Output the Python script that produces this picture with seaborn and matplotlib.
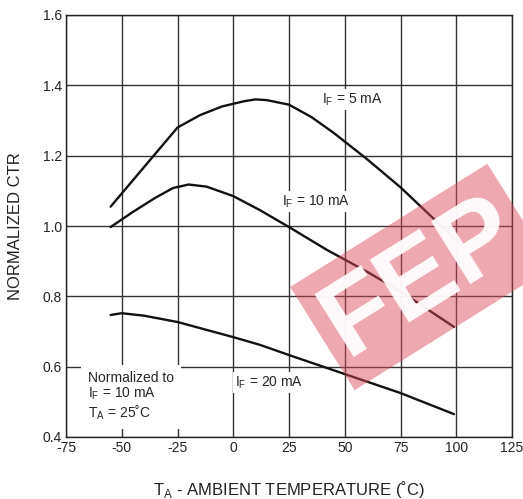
import numpy as np
import pandas as pd
import seaborn as sns
import matplotlib.pyplot as plt

# Curve data
temp_5 = [-55, -45, -35, -25, -15, -5, 5, 10, 15, 25, 35, 45, 50, 60, 75, 90, 99]
ctr_5 = [1.055, 1.13, 1.205, 1.28, 1.315, 1.34, 1.355, 1.36, 1.358, 1.345, 1.31, 1.265, 1.24, 1.19, 1.11, 1.02, 0.965]

temp_10 = [-55, -45, -35, -27, -20, -12, 0, 12, 25, 42, 60, 76, 99]
ctr_10 = [0.997, 1.04, 1.08, 1.108, 1.118, 1.112, 1.085, 1.045, 0.997, 0.932, 0.87, 0.81, 0.713]

temp_20 = [-55, -50, -40, -25, 0, 12, 25, 50, 75, 99]
ctr_20 = [0.747, 0.752, 0.745, 0.727, 0.684, 0.662, 0.633, 0.579, 0.525, 0.465]

x_ticks = [-75, -50, -25, 0, 25, 50, 75, 100, 125]
y_ticks = [0.4, 0.6, 0.8, 1.0, 1.2, 1.4, 1.6]

sns.set_theme(style='white')
plt.rcParams['font.family'] = ['Liberation Sans', 'DejaVu Sans']

df = pd.concat([
    pd.DataFrame({'temp': temp_5, 'ctr': ctr_5, 'curve': '5'}),
    pd.DataFrame({'temp': temp_10, 'ctr': ctr_10, 'curve': '10'}),
    pd.DataFrame({'temp': temp_20, 'ctr': ctr_20, 'curve': '20'}),
])

fig = plt.figure(figsize=(5.23, 4.99), dpi=100)
ax = fig.add_axes([66 / 523, 1 - 437 / 499, 446 / 523, 422 / 499])

sns.lineplot(data=df, x='temp', y='ctr', units='curve', estimator=None,
             color='#111111', linewidth=1.7, ax=ax, sort=False, zorder=3)

ax.set_xlim(-75, 125)
ax.set_ylim(0.4, 1.6)
ax.set_xticks(x_ticks)
ax.set_yticks(y_ticks)
ax.set_xticklabels([str(t) for t in x_ticks])
ax.set_yticklabels([f'{t:.1f}' for t in y_ticks])
ax.tick_params(length=0, labelsize=10, colors='#222222', pad=3)
ax.grid(True, color='#333333', linewidth=1.0)
for s in ax.spines.values():
    s.set_color('#222222')
    s.set_linewidth(1.0)

ax.set_xlabel(r'T$_\mathregular{A}$ - AMBIENT TEMPERATURE (˚C)', fontsize=12, color='#222222', labelpad=17)
ax.set_ylabel('NORMALIZED CTR', fontsize=12, color='#222222', labelpad=14)

box = dict(facecolor='white', edgecolor='none', pad=1.5)
ax.text(40, 1.36, r'I$_\mathregular{F}$ = 5 mA', fontsize=10, va='center', bbox=box, zorder=4)
ax.text(22, 1.07, r'I$_\mathregular{F}$ = 10 mA', fontsize=10, va='center', bbox=box, zorder=4)
ax.text(1, 0.555, r'I$_\mathregular{F}$ = 20 mA', fontsize=10, va='center', bbox=box, zorder=4)
ax.text(-65, 0.515, 'Normalized to\n' + r'I$_\mathregular{F}$ = 10 mA' + '\n' + r'T$_\mathregular{A}$ = 25˚C',
        fontsize=10, va='center', linespacing=1.1,
        bbox=dict(facecolor='white', edgecolor='none', pad=5), zorder=4)

# watermark
fig.text(0.805, 0.445, 'FEP', fontsize=78, fontweight='bold', color='white',
         rotation=32, ha='center', va='center', alpha=0.95,
         bbox=dict(facecolor='#dc4a5a', edgecolor='none', alpha=0.48, pad=8), zorder=10)

fig.savefig('out.png', dpi=100)
